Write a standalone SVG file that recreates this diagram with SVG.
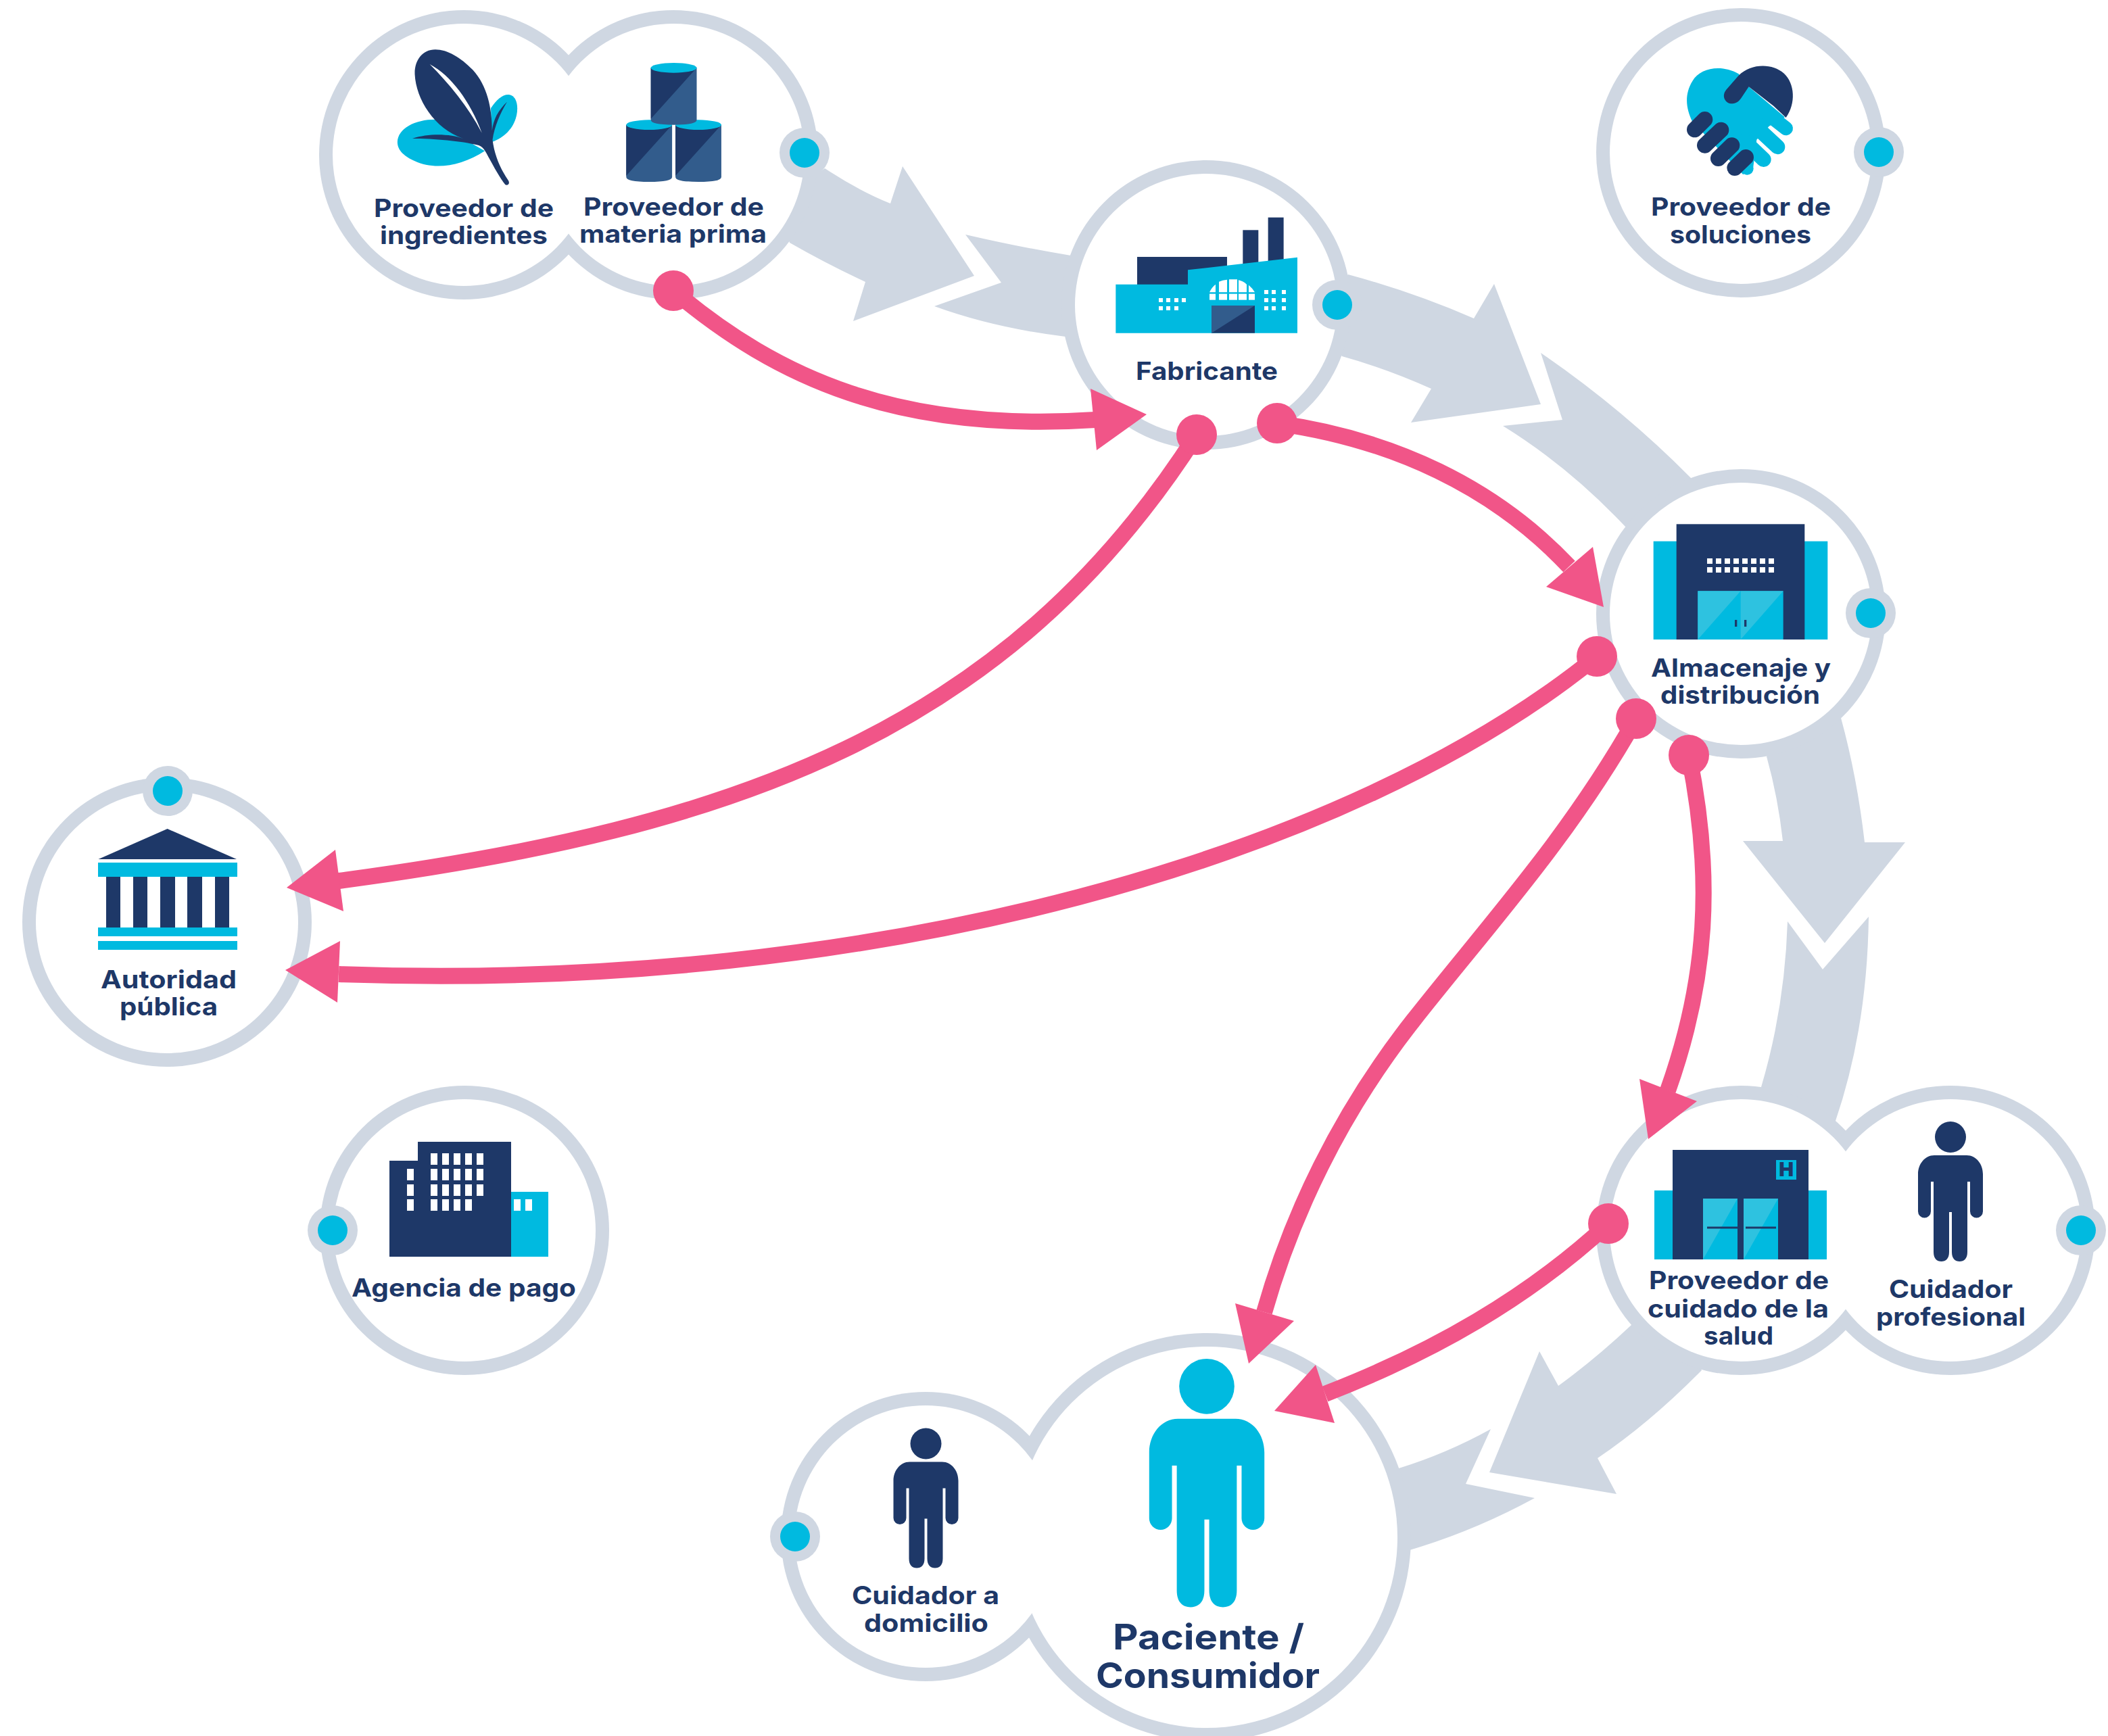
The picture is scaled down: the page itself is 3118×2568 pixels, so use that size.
<svg xmlns="http://www.w3.org/2000/svg" xmlns:xlink="http://www.w3.org/1999/xlink" width="3118" height="2568" viewBox="0 0 3118 2568">
<style>
.g{fill:#CFD7E2}.w{fill:#fff}.c{fill:#00BAE0}.d{fill:#1E3868}.m{fill:#325C8C}.l{fill:#2EC2E0}.p{fill:#F15588}
.wire{fill:none;stroke:#F15588;stroke-width:24}
.t{font-family:Inter,"Liberation Sans",sans-serif;font-weight:700;font-size:37px;fill:#1E3868;transform:translate(0,-1px)}
.big{font-size:52px}
.df{fill:none;stroke:#1E3868;stroke-width:70;stroke-linecap:round}
.cf{fill:none;stroke:#00BAE0;stroke-linecap:round}
</style>
<defs>
<path id="person-body" d="M-24,50 L24,50 C38,50 48,63 48,78 L48,133 A9.5,9.5 0 0 1 29,133 L29,89 L25,89 L25,193 C25,203 20,207 13.5,207 C7,207 2,203 2,193 L2,134 L-2,134 L-2,193 C-2,203 -7,207 -13.5,207 C-20,207 -25,203 -25,193 L-25,89 L-29,89 L-29,133 A9.5,9.5 0 0 1 -48,133 L-48,78 C-48,63 -38,50 -24,50 Z"/>
<g id="person"><circle cx="0" cy="23" r="23"/><use xlink:href="#person-body" href="#person-body"/></g>
<g id="barrel">
<path class="m" d="M0,0 H190 V231 Q190,253 95,253 Q0,253 0,231 Z"/>
<path class="d" d="M0,0 H190 L0,226 Z"/>
<ellipse class="c" cx="95" cy="0" rx="95" ry="22"/>
</g>
<g id="outlet"><circle class="g" r="37"/><circle class="c" r="22"/></g>
</defs>
<rect class="w" width="3118" height="2568"/>

<g id="flow-connectors" class="g">
<path d="M1150,300 L1220,249 Q1270,282 1317,301 L1335,246 L1441,408 L1262,475 L1280,417 Q1222,390 1168,359 Z"/>
<path d="M1428,347 Q1510,366 1584,378 L1650,440 L1576,498 Q1470,485 1382,453 L1481,418 Z"/>
<path d="M1940,460 L1994,406 Q2090,432 2180,471 L2210,420 L2279,598 L2087,625 L2117,575 Q2050,545 1985,527 Z"/>
<path d="M2279,522 Q2400,605 2501,707 L2500,800 L2404,779 Q2320,690 2223,630 L2311,621 Z"/>
<path d="M2670,1060 L2723,1062 Q2747,1150 2758,1246 L2818,1246 L2699,1395 L2578,1244 L2637,1244 Q2630,1180 2613,1119 Z"/>
<path d="M2644,1363 L2696,1434 L2764,1356 Q2762,1520 2715,1658 L2680,1700 L2605,1608 Q2640,1490 2644,1363 Z"/>
<path d="M2480,1960 L2413,1960 Q2360,2010 2305,2050 L2277,1999 L2203,2178 L2391,2210 L2363,2157 Q2440,2105 2517,2027 Z"/>
<path d="M2205,2114 Q2140,2150 2069,2172 L2000,2240 L2085,2293 Q2180,2265 2270,2216 L2168,2195 Z"/>
</g>

<g id="rings" class="g">
<circle cx="686" cy="229" r="214"/><circle cx="996" cy="229" r="214"/>
<circle cx="2575" cy="226" r="214"/><circle cx="1784" cy="451" r="214"/>
<circle cx="2575" cy="908" r="214"/><circle cx="247" cy="1364" r="214"/>
<circle cx="687" cy="1820" r="214"/><circle cx="2575" cy="1820" r="214"/>
<circle cx="2885" cy="1820" r="214"/><circle cx="1369" cy="2273" r="214"/>
<circle cx="1785" cy="2274" r="302"/>
</g>

<g id="node-ingredientes">
<circle class="w" cx="686" cy="229" r="194"/>
<g transform="translate(560,60) scale(.357,.3333)">
<path class="c" d="M235,350 C150,350 80,390 78,450 C78,490 110,515 150,535 C230,575 340,560 440,490 L350,435 Z"/>
<path class="c" d="M465,300 C490,260 515,238 540,240 C570,245 580,285 572,330 C560,390 520,430 470,450 Z"/>
<path class="d" d="M235,40 C180,40 148,90 150,150 C155,260 230,390 350,435 C300,415 210,410 140,435 C230,435 340,445 415,465 C440,475 445,500 470,545 C490,585 510,620 525,640 C535,645 545,635 538,622 C505,570 480,510 472,440 C480,380 505,320 532,272 C495,310 475,350 470,400 C470,300 450,200 390,130 C340,75 285,40 235,40 Z"/>
<path class="w" d="M212,105 C300,155 380,270 428,410 C370,290 290,190 212,105 Z"/>
</g>
<text class="t" x="553" y="322" textLength="266" lengthAdjust="spacingAndGlyphs">Proveedor de</text>
<text class="t" x="562" y="362" textLength="248" lengthAdjust="spacingAndGlyphs">ingredientes</text>
</g>

<g id="node-materia-prima">
<circle class="w" cx="996" cy="229" r="194"/>
<g transform="translate(560,60) scale(.357,.3333)">
<use xlink:href="#barrel" href="#barrel" x="1026" y="374"/>
<use xlink:href="#barrel" href="#barrel" x="1230" y="374"/>
<use xlink:href="#barrel" href="#barrel" x="1128" y="121"/>
</g>
<text class="t" x="863" y="320" textLength="267" lengthAdjust="spacingAndGlyphs">Proveedor de</text>
<text class="t" x="857" y="360" textLength="277" lengthAdjust="spacingAndGlyphs">materia prima</text>
<use xlink:href="#outlet" href="#outlet" x="1190" y="226"/>
</g>

<g id="node-soluciones">
<circle class="w" cx="2575" cy="226" r="194"/>
<g transform="translate(2340,0) scale(.3333)">
<path class="c" d="M695,328 C620,285 525,300 490,360 C450,425 465,490 490,540 L715,775 L760,740 L775,620 L830,560 L900,520 L740,385 Z"/>
<path class="cf" stroke-width="62" d="M790,480 L905,570"/>
<path class="cf" stroke-width="66" d="M780,570 L868,652"/>
<path class="cf" stroke-width="66" d="M720,625 L806,708"/>
<path class="cf" stroke-width="56" d="M680,690 L733,748"/>
<path class="d" d="M905,522 C950,460 945,370 895,325 C845,280 750,280 695,335 L640,398 C615,430 640,462 668,460 C685,458 695,450 705,437 L740,385 L850,470 Z"/>
<path class="df" d="M500,575 L545,530 M545,645 L617,577 M605,703 L665,645 M678,745 L727,698"/>
</g>
<text class="t" x="2442" y="320" textLength="266" lengthAdjust="spacingAndGlyphs">Proveedor de</text>
<text class="t" x="2470" y="361" textLength="209" lengthAdjust="spacingAndGlyphs">soluciones</text>
<use xlink:href="#outlet" href="#outlet" x="2779" y="225"/>
</g>

<g id="node-fabricante">
<circle class="w" cx="1784" cy="451" r="194"/>
<g transform="translate(1620,300) scale(.3333)">
<rect class="d" x="186" y="240" width="399" height="130"/>
<rect class="d" x="655" y="121" width="69" height="160"/>
<rect class="d" x="767" y="65" width="69" height="200"/>
<path class="c" d="M91,362 L411,362 L411,298 L897,242 L897,578 L91,578 Z"/>
<g class="w">
<path d="M507,397 Q517,375 534,362 V397 Z M549,397 V350 Q566,342 585,341 V397 Z M594,397 V340 H630 V397 Z M636,397 V343 Q656,347 672,362 V397 Z M681,397 V365 Q697,378 708,397 Z"/>
<rect x="507" y="404" width="27" height="27"/><rect x="549" y="404" width="36" height="27"/><rect x="594" y="404" width="36" height="27"/><rect x="636" y="404" width="36" height="27"/><rect x="681" y="404" width="27" height="27"/>
<rect x="282" y="423" width="18" height="18"/><rect x="315" y="423" width="18" height="18"/><rect x="351" y="423" width="18" height="18"/><rect x="384" y="423" width="18" height="18"/>
<rect x="282" y="459" width="18" height="18"/><rect x="315" y="459" width="18" height="18"/><rect x="351" y="459" width="18" height="18"/>
<rect x="750" y="387" width="18" height="18"/><rect x="783" y="387" width="18" height="18"/><rect x="828" y="387" width="18" height="18"/>
<rect x="750" y="423" width="18" height="18"/><rect x="783" y="423" width="18" height="18"/><rect x="828" y="423" width="18" height="18"/>
<rect x="750" y="459" width="18" height="18"/><rect x="783" y="459" width="18" height="18"/><rect x="828" y="459" width="18" height="18"/>
</g>
<rect class="d" x="516" y="456" width="192" height="122"/>
<path class="m" d="M516,456 H708 L516,578 Z"/>
</g>
<text class="t" x="1680" y="563" textLength="210" lengthAdjust="spacingAndGlyphs">Fabricante</text>
<use xlink:href="#outlet" href="#outlet" x="1978" y="451"/>
</g>

<g id="node-almacenaje">
<circle class="w" cx="2575" cy="908" r="194"/>
<g transform="translate(2420,760) scale(.3333)">
<rect class="c" x="77" y="122" width="773" height="436"/>
<rect class="d" x="179" y="46" width="569" height="512"/>
<rect class="c" x="274" y="343" width="379" height="215"/>
<path class="l" d="M274,343 H464 L274,558 Z M464,343 H653 L464,558 Z"/>
<rect class="d" x="438" y="471" width="10" height="30"/><rect class="d" x="480" y="471" width="10" height="30"/>
<g class="w">
<rect x="315" y="198" width="24" height="24"/><rect x="354" y="198" width="24" height="24"/><rect x="393" y="198" width="24" height="24"/><rect x="432" y="198" width="24" height="24"/><rect x="471" y="198" width="24" height="24"/><rect x="510" y="198" width="24" height="24"/><rect x="549" y="198" width="24" height="24"/><rect x="588" y="198" width="24" height="24"/>
<rect x="315" y="237" width="24" height="24"/><rect x="354" y="237" width="24" height="24"/><rect x="393" y="237" width="24" height="24"/><rect x="432" y="237" width="24" height="24"/><rect x="471" y="237" width="24" height="24"/><rect x="510" y="237" width="24" height="24"/><rect x="549" y="237" width="24" height="24"/><rect x="588" y="237" width="24" height="24"/>
</g>
</g>
<text class="t" x="2442" y="1002" textLength="266" lengthAdjust="spacingAndGlyphs">Almacenaje y</text>
<text class="t" x="2456" y="1042" textLength="236" lengthAdjust="spacingAndGlyphs">distribución</text>
<use xlink:href="#outlet" href="#outlet" x="2767" y="907"/>
</g>

<g id="node-autoridad">
<circle class="w" cx="247" cy="1364" r="194"/>
<path class="d" d="M145.500,1271 L247.600,1226 L350,1271 Z"/>
<rect class="c" x="145" y="1276" width="206" height="21"/>
<g class="d">
<rect x="157" y="1297" width="21" height="75"/><rect x="197" y="1297" width="21" height="75"/><rect x="237" y="1297" width="22" height="75"/><rect x="277" y="1297" width="22" height="75"/><rect x="318" y="1297" width="21" height="75"/>
</g>
<rect class="c" x="145" y="1372" width="206" height="13"/>
<rect class="c" x="145" y="1392" width="206" height="13"/>
<text class="t" x="149" y="1463" textLength="201" lengthAdjust="spacingAndGlyphs">Autoridad</text>
<text class="t" x="177" y="1503" textLength="145" lengthAdjust="spacingAndGlyphs">pública</text>
<use xlink:href="#outlet" href="#outlet" x="248" y="1170"/>
</g>

<g id="node-agencia">
<circle class="w" cx="687" cy="1820" r="194"/>
<path class="d" d="M576,1717 H618 V1689 H756 V1859 H576 Z"/>
<rect class="c" x="756" y="1763" width="55" height="96"/>
<g class="w">
<rect x="637" y="1706" width="10" height="17"/><rect x="654" y="1706" width="10" height="17"/><rect x="671" y="1706" width="10" height="17"/><rect x="688" y="1706" width="10" height="17"/><rect x="705" y="1706" width="10" height="17"/>
<rect x="637" y="1729" width="10" height="17"/><rect x="654" y="1729" width="10" height="17"/><rect x="671" y="1729" width="10" height="17"/><rect x="688" y="1729" width="10" height="17"/><rect x="705" y="1729" width="10" height="17"/>
<rect x="637" y="1752" width="10" height="17"/><rect x="654" y="1752" width="10" height="17"/><rect x="671" y="1752" width="10" height="17"/><rect x="688" y="1752" width="10" height="17"/><rect x="705" y="1752" width="10" height="17"/>
<rect x="637" y="1774" width="10" height="17"/><rect x="654" y="1774" width="10" height="17"/><rect x="671" y="1774" width="10" height="17"/><rect x="688" y="1774" width="10" height="17"/>
<rect x="602" y="1729" width="10" height="17"/><rect x="602" y="1752" width="10" height="17"/><rect x="602" y="1774" width="10" height="17"/>
<rect x="760" y="1774" width="10" height="17"/><rect x="777" y="1774" width="10" height="17"/>
</g>
<text class="t" x="520" y="1919" textLength="332" lengthAdjust="spacingAndGlyphs">Agencia de pago</text>
<use xlink:href="#outlet" href="#outlet" x="492" y="1820"/>
</g>

<g id="node-cuidador-profesional">
<circle class="w" cx="2885" cy="1820" r="194"/>
<use xlink:href="#person" href="#person" x="2885" y="1659" class="d"/>
<text class="t" x="2794" y="1921" textLength="183" lengthAdjust="spacingAndGlyphs">Cuidador</text>
<text class="t" x="2775" y="1962" textLength="221" lengthAdjust="spacingAndGlyphs">profesional</text>
<use xlink:href="#outlet" href="#outlet" x="3078" y="1820"/>
</g>

<g id="node-cuidado-salud">
<circle class="w" cx="2575" cy="1820" r="194"/>
<rect class="c" x="2447" y="1761" width="255" height="102"/>
<rect class="d" x="2474" y="1701" width="201" height="162"/>
<rect class="c" x="2519" y="1773" width="51" height="90"/><rect class="c" x="2579" y="1773" width="51" height="90"/>
<path class="l" d="M2519,1773 H2570 L2519,1863 Z M2579,1773 H2630 L2579,1863 Z"/>
<path class="d" d="M2525,1814.500 H2570 V1817.500 H2525 Z M2582,1814.500 H2627 V1817.500 H2582 Z"/>
<rect class="c" x="2627" y="1716" width="30" height="29"/>
<text x="2642" y="1740" text-anchor="middle" font-family="Inter,'Liberation Sans',sans-serif" font-weight="900" font-size="29" class="d">H</text>
<text class="t" x="2439" y="1908" textLength="266" lengthAdjust="spacingAndGlyphs">Proveedor de</text>
<text class="t" x="2437" y="1950" textLength="268" lengthAdjust="spacingAndGlyphs">cuidado de la</text>
<text class="t" x="2520" y="1990" textLength="103" lengthAdjust="spacingAndGlyphs">salud</text>
</g>

<g id="node-cuidador-domicilio">
<circle class="w" cx="1369" cy="2273" r="194"/>
<use xlink:href="#person" href="#person" x="1369.500" y="2112.500" class="d"/>
<text class="t" x="1260" y="2374" textLength="218" lengthAdjust="spacingAndGlyphs">Cuidador a</text>
<text class="t" x="1278" y="2415" textLength="184" lengthAdjust="spacingAndGlyphs">domicilio</text>
<use xlink:href="#outlet" href="#outlet" x="1176" y="2273"/>
</g>

<g id="node-paciente">
<circle class="w" cx="1785" cy="2274" r="282"/>
<g class="c" transform="translate(1785,2010) scale(1.775)"><use xlink:href="#person" href="#person"/></g>
<text class="t big" x="1646" y="2441" textLength="283" lengthAdjust="spacingAndGlyphs">Paciente /</text>
<text class="t big" x="1621" y="2498" textLength="331" lengthAdjust="spacingAndGlyphs">Consumidor</text>
</g>

<g id="connectors">
<path class="wire" d="M996,430 C1150,560 1330,640 1620,621"/>
<polygon class="p" points="1696,613 1613,575 1622,666"/><circle class="p" cx="996" cy="430" r="30"/>
<path class="wire" d="M1770,643 C1490,1080 1090,1225 501,1303"/>
<polygon class="p" points="424,1313 496,1257 508,1348"/><circle class="p" cx="1770" cy="643" r="30"/>
<path class="wire" d="M1889,626 C2060,650 2210,720 2321,838"/>
<polygon class="p" points="2372,898 2356,809 2287,868"/><circle class="p" cx="1889" cy="626" r="30"/>
<path class="wire" d="M2362,971 C2000,1265 1300,1470 501,1441"/>
<polygon class="p" points="422,1435 503,1392 499,1483"/><circle class="p" cx="2362" cy="971" r="30"/>
<path class="wire" d="M2420,1063 C2320,1240 2200,1370 2090,1510 C1980,1650 1910,1800 1870,1941"/>
<polygon class="p" points="1847,2017 1827,1928 1914,1954"/><circle class="p" cx="2420" cy="1063" r="30"/>
<path class="wire" d="M2498,1117 C2535,1300 2525,1450 2467,1613"/>
<polygon class="p" points="2438,1685 2425,1596 2510,1629"/><circle class="p" cx="2498" cy="1117" r="30"/>
<path class="wire" d="M2379,1810 C2260,1920 2120,2000 1960,2062"/>
<polygon class="p" points="1885,2087 1946,2019 1974,2105"/><circle class="p" cx="2379" cy="1810" r="30"/>
</g>
</svg>
